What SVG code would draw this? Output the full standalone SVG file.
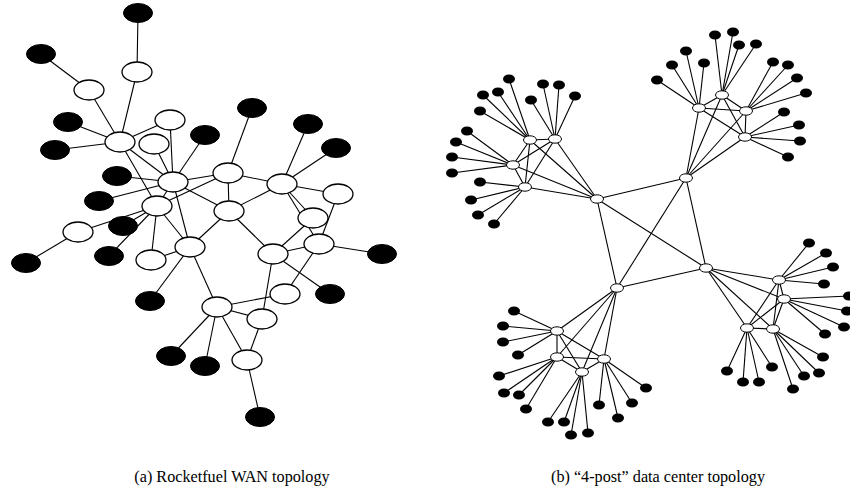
<svg xmlns="http://www.w3.org/2000/svg" width="850" height="488" viewBox="0 0 850 488">
<style>
.e line{stroke:#000;stroke-width:1.1;fill:none}
.lw{fill:#fff;stroke:#000;stroke-width:1.3;rx:15px;ry:10px}
.lb{fill:#000;stroke:#000;stroke-width:1;rx:14.5px;ry:9.5px}
.sw{fill:#fff;stroke:#000;stroke-width:1;rx:6.5px;ry:4.2px}
.sb{fill:#000;rx:6px;ry:4.5px}
.cap{font-family:"Liberation Serif","Times New Roman",serif;font-size:16.2px;fill:#000;text-anchor:middle}
</style>
<rect width="850" height="488" fill="#fff"/>
<g id="connectors" class="e">
<!-- left graph -->
<line x1="138" y1="13" x2="137" y2="72"/>
<line x1="137" y1="72" x2="120" y2="142"/>
<line x1="41" y1="54" x2="89" y2="90"/>
<line x1="89" y1="90" x2="120" y2="142"/>
<line x1="68" y1="122" x2="120" y2="142"/>
<line x1="55" y1="150" x2="120" y2="142"/>
<line x1="120" y1="142" x2="170" y2="120"/>
<line x1="120" y1="142" x2="173" y2="182"/>
<line x1="120" y1="142" x2="157" y2="206"/>
<line x1="170" y1="120" x2="173" y2="182"/>
<line x1="154" y1="144" x2="173" y2="182"/>
<line x1="205" y1="135" x2="173" y2="182"/>
<line x1="117" y1="176" x2="173" y2="182"/>
<line x1="99" y1="201" x2="173" y2="182"/>
<line x1="173" y1="182" x2="157" y2="206"/>
<line x1="173" y1="182" x2="190" y2="247"/>
<line x1="173" y1="182" x2="228" y2="173"/>
<line x1="173" y1="182" x2="229" y2="211"/>
<line x1="157" y1="206" x2="228" y2="173"/>
<line x1="157" y1="206" x2="78" y2="232"/>
<line x1="78" y1="232" x2="26" y2="263"/>
<line x1="123" y1="226" x2="157" y2="206"/>
<line x1="109" y1="256" x2="157" y2="206"/>
<line x1="157" y1="206" x2="151" y2="260"/>
<line x1="157" y1="206" x2="190" y2="247"/>
<line x1="151" y1="260" x2="190" y2="247"/>
<line x1="190" y1="247" x2="229" y2="211"/>
<line x1="190" y1="247" x2="150" y2="301"/>
<line x1="190" y1="247" x2="217" y2="307"/>
<line x1="252" y1="108" x2="228" y2="173"/>
<line x1="228" y1="173" x2="229" y2="211"/>
<line x1="228" y1="173" x2="282" y2="184"/>
<line x1="229" y1="211" x2="282" y2="184"/>
<line x1="229" y1="211" x2="273" y2="254"/>
<line x1="282" y1="184" x2="308" y2="124"/>
<line x1="282" y1="184" x2="336" y2="148"/>
<line x1="282" y1="184" x2="338" y2="194"/>
<line x1="282" y1="184" x2="313" y2="218"/>
<line x1="282" y1="184" x2="319" y2="244"/>
<line x1="338" y1="194" x2="319" y2="244"/>
<line x1="313" y1="218" x2="273" y2="254"/>
<line x1="319" y1="244" x2="273" y2="254"/>
<line x1="319" y1="244" x2="382" y2="254"/>
<line x1="319" y1="244" x2="285" y2="294"/>
<line x1="273" y1="254" x2="262" y2="319"/>
<line x1="273" y1="254" x2="330" y2="294"/>
<line x1="217" y1="307" x2="285" y2="294"/>
<line x1="217" y1="307" x2="262" y2="319"/>
<line x1="217" y1="307" x2="171" y2="356"/>
<line x1="217" y1="307" x2="205" y2="366"/>
<line x1="217" y1="307" x2="247" y2="360"/>
<line x1="262" y1="319" x2="247" y2="360"/>
<line x1="247" y1="360" x2="260" y2="417"/>
<!-- right graph: core -->
<line x1="597" y1="199" x2="686" y2="178"/>
<line x1="686" y1="178" x2="706" y2="268"/>
<line x1="706" y1="268" x2="617" y2="288"/>
<line x1="617" y1="288" x2="597" y2="199"/>
<line x1="597" y1="199" x2="706" y2="268"/>
<line x1="686" y1="178" x2="617" y2="288"/>
<!-- cluster A -->
<line x1="530" y1="140" x2="555" y2="139"/>
<line x1="530" y1="140" x2="513" y2="165"/>
<line x1="530" y1="140" x2="525" y2="187"/>
<line x1="555" y1="139" x2="513" y2="165"/>
<line x1="555" y1="139" x2="525" y2="187"/>
<line x1="513" y1="165" x2="525" y2="187"/>
<line x1="530" y1="140" x2="597" y2="199"/>
<line x1="555" y1="139" x2="597" y2="199"/>
<line x1="513" y1="165" x2="597" y2="199"/>
<line x1="525" y1="187" x2="597" y2="199"/>
<line x1="530" y1="140" x2="509" y2="79"/>
<line x1="530" y1="140" x2="498" y2="92"/>
<line x1="530" y1="140" x2="483" y2="95"/>
<line x1="530" y1="140" x2="480" y2="111"/>
<line x1="555" y1="139" x2="531" y2="100"/>
<line x1="555" y1="139" x2="543" y2="84"/>
<line x1="555" y1="139" x2="559" y2="85"/>
<line x1="555" y1="139" x2="575" y2="96"/>
<line x1="513" y1="165" x2="467" y2="131"/>
<line x1="513" y1="165" x2="456" y2="142"/>
<line x1="513" y1="165" x2="452" y2="157"/>
<line x1="513" y1="165" x2="452" y2="173"/>
<line x1="525" y1="187" x2="480" y2="182"/>
<line x1="525" y1="187" x2="471" y2="200"/>
<line x1="525" y1="187" x2="478" y2="215"/>
<line x1="525" y1="187" x2="494" y2="224"/>
<!-- cluster D -->
<line x1="699" y1="108" x2="722" y2="95"/>
<line x1="699" y1="108" x2="746" y2="111"/>
<line x1="699" y1="108" x2="745" y2="137"/>
<line x1="722" y1="95" x2="746" y2="111"/>
<line x1="722" y1="95" x2="745" y2="137"/>
<line x1="746" y1="111" x2="745" y2="137"/>
<line x1="699" y1="108" x2="686" y2="178"/>
<line x1="722" y1="95" x2="686" y2="178"/>
<line x1="746" y1="111" x2="686" y2="178"/>
<line x1="745" y1="137" x2="686" y2="178"/>
<line x1="699" y1="108" x2="657" y2="80"/>
<line x1="699" y1="108" x2="672" y2="65"/>
<line x1="699" y1="108" x2="686" y2="51"/>
<line x1="699" y1="108" x2="704" y2="63"/>
<line x1="722" y1="95" x2="715" y2="35"/>
<line x1="722" y1="95" x2="733" y2="32"/>
<line x1="722" y1="95" x2="739" y2="45"/>
<line x1="722" y1="95" x2="756" y2="44"/>
<line x1="746" y1="111" x2="773" y2="62"/>
<line x1="746" y1="111" x2="788" y2="65"/>
<line x1="746" y1="111" x2="797" y2="78"/>
<line x1="746" y1="111" x2="806" y2="93"/>
<line x1="745" y1="137" x2="784" y2="112"/>
<line x1="745" y1="137" x2="799" y2="125"/>
<line x1="745" y1="137" x2="800" y2="141"/>
<line x1="745" y1="137" x2="788" y2="157"/>
<!-- cluster E -->
<line x1="779" y1="280" x2="784" y2="299"/>
<line x1="779" y1="280" x2="747" y2="328"/>
<line x1="779" y1="280" x2="773" y2="329"/>
<line x1="784" y1="299" x2="747" y2="328"/>
<line x1="784" y1="299" x2="773" y2="329"/>
<line x1="747" y1="328" x2="773" y2="329"/>
<line x1="779" y1="280" x2="706" y2="268"/>
<line x1="784" y1="299" x2="706" y2="268"/>
<line x1="747" y1="328" x2="706" y2="268"/>
<line x1="773" y1="329" x2="706" y2="268"/>
<line x1="779" y1="280" x2="809" y2="243"/>
<line x1="779" y1="280" x2="826" y2="253"/>
<line x1="779" y1="280" x2="833" y2="267"/>
<line x1="779" y1="280" x2="824" y2="284"/>
<line x1="784" y1="299" x2="849" y2="296"/>
<line x1="784" y1="299" x2="847" y2="311"/>
<line x1="784" y1="299" x2="844" y2="327"/>
<line x1="784" y1="299" x2="825" y2="334"/>
<line x1="747" y1="328" x2="727" y2="371"/>
<line x1="747" y1="328" x2="743" y2="382"/>
<line x1="747" y1="328" x2="759" y2="382"/>
<line x1="747" y1="328" x2="772" y2="367"/>
<line x1="773" y1="329" x2="823" y2="357"/>
<line x1="773" y1="329" x2="819" y2="373"/>
<line x1="773" y1="329" x2="804" y2="376"/>
<line x1="773" y1="329" x2="793" y2="389"/>
<!-- cluster F -->
<line x1="557" y1="331" x2="557" y2="357"/>
<line x1="557" y1="331" x2="582" y2="372"/>
<line x1="557" y1="331" x2="604" y2="359"/>
<line x1="557" y1="357" x2="582" y2="372"/>
<line x1="557" y1="357" x2="604" y2="359"/>
<line x1="582" y1="372" x2="604" y2="359"/>
<line x1="557" y1="331" x2="617" y2="288"/>
<line x1="557" y1="357" x2="617" y2="288"/>
<line x1="582" y1="372" x2="617" y2="288"/>
<line x1="604" y1="359" x2="617" y2="288"/>
<line x1="557" y1="331" x2="514" y2="311"/>
<line x1="557" y1="331" x2="503" y2="326"/>
<line x1="557" y1="331" x2="503" y2="342"/>
<line x1="557" y1="331" x2="518" y2="355"/>
<line x1="557" y1="357" x2="499" y2="376"/>
<line x1="557" y1="357" x2="504" y2="393"/>
<line x1="557" y1="357" x2="519" y2="395"/>
<line x1="557" y1="357" x2="526" y2="409"/>
<line x1="582" y1="372" x2="548" y2="422"/>
<line x1="582" y1="372" x2="564" y2="422"/>
<line x1="582" y1="372" x2="571" y2="435"/>
<line x1="582" y1="372" x2="588" y2="433"/>
<line x1="604" y1="359" x2="599" y2="405"/>
<line x1="604" y1="359" x2="618" y2="418"/>
<line x1="604" y1="359" x2="632" y2="403"/>
<line x1="604" y1="359" x2="646" y2="388"/>
</g>
<g id="wan-nodes">
<g id="a-b1"><ellipse class="lb" cx="138" cy="13"/></g>
<g id="a-w1"><ellipse class="lw" cx="137" cy="72"/></g>
<g id="a-b2"><ellipse class="lb" cx="41" cy="54"/></g>
<g id="a-w2"><ellipse class="lw" cx="89" cy="90"/></g>
<g id="a-b3"><ellipse class="lb" cx="68" cy="122"/></g>
<g id="a-b4"><ellipse class="lb" cx="55" cy="150"/></g>
<g id="a-w3"><ellipse class="lw" cx="120" cy="142"/></g>
<g id="a-w4"><ellipse class="lw" cx="170" cy="120"/></g>
<g id="a-w5"><ellipse class="lw" cx="154" cy="144"/></g>
<g id="a-b5"><ellipse class="lb" cx="205" cy="135"/></g>
<g id="a-b6"><ellipse class="lb" cx="117" cy="176"/></g>
<g id="a-b7"><ellipse class="lb" cx="99" cy="201"/></g>
<g id="a-w6"><ellipse class="lw" cx="173" cy="182"/></g>
<g id="a-b8"><ellipse class="lb" cx="123" cy="226"/></g>
<g id="a-w7"><ellipse class="lw" cx="157" cy="206"/></g>
<g id="a-w8"><ellipse class="lw" cx="78" cy="232"/></g>
<g id="a-b9"><ellipse class="lb" cx="26" cy="263"/></g>
<g id="a-b10"><ellipse class="lb" cx="109" cy="256"/></g>
<g id="a-w9"><ellipse class="lw" cx="151" cy="260"/></g>
<g id="a-w10"><ellipse class="lw" cx="190" cy="247"/></g>
<g id="a-b11"><ellipse class="lb" cx="150" cy="301"/></g>
<g id="a-b14"><ellipse class="lb" cx="252" cy="108"/></g>
<g id="a-w11"><ellipse class="lw" cx="228" cy="173"/></g>
<g id="a-w12"><ellipse class="lw" cx="229" cy="211"/></g>
<g id="a-w13"><ellipse class="lw" cx="282" cy="184"/></g>
<g id="a-b15"><ellipse class="lb" cx="308" cy="124"/></g>
<g id="a-b16"><ellipse class="lb" cx="336" cy="148"/></g>
<g id="a-w14"><ellipse class="lw" cx="338" cy="194"/></g>
<g id="a-w15"><ellipse class="lw" cx="313" cy="218"/></g>
<g id="a-w16"><ellipse class="lw" cx="319" cy="244"/></g>
<g id="a-b17"><ellipse class="lb" cx="382" cy="254"/></g>
<g id="a-w17"><ellipse class="lw" cx="273" cy="254"/></g>
<g id="a-w18"><ellipse class="lw" cx="285" cy="294"/></g>
<g id="a-b18"><ellipse class="lb" cx="330" cy="294"/></g>
<g id="a-w19"><ellipse class="lw" cx="217" cy="307"/></g>
<g id="a-w20"><ellipse class="lw" cx="262" cy="319"/></g>
<g id="a-w21"><ellipse class="lw" cx="247" cy="360"/></g>
<g id="a-b12"><ellipse class="lb" cx="171" cy="356"/></g>
<g id="a-b13"><ellipse class="lb" cx="205" cy="366"/></g>
<g id="a-b19"><ellipse class="lb" cx="260" cy="417"/></g>
</g>
<g id="dc-nodes">
<g id="c1"><ellipse class="sw" cx="597" cy="199"/></g>
<g id="c2"><ellipse class="sw" cx="686" cy="178"/></g>
<g id="c3"><ellipse class="sw" cx="706" cy="268"/></g>
<g id="c4"><ellipse class="sw" cx="617" cy="288"/></g>
<g id="a1"><ellipse class="sw" cx="530" cy="140"/></g>
<g id="a2"><ellipse class="sw" cx="555" cy="139"/></g>
<g id="a3"><ellipse class="sw" cx="513" cy="165"/></g>
<g id="a4"><ellipse class="sw" cx="525" cy="187"/></g>
<g id="d1"><ellipse class="sw" cx="699" cy="108"/></g>
<g id="d2"><ellipse class="sw" cx="722" cy="95"/></g>
<g id="d3"><ellipse class="sw" cx="746" cy="111"/></g>
<g id="d4"><ellipse class="sw" cx="745" cy="137"/></g>
<g id="e1"><ellipse class="sw" cx="779" cy="280"/></g>
<g id="e2"><ellipse class="sw" cx="784" cy="299"/></g>
<g id="e3"><ellipse class="sw" cx="747" cy="328"/></g>
<g id="e4"><ellipse class="sw" cx="773" cy="329"/></g>
<g id="f1"><ellipse class="sw" cx="557" cy="331"/></g>
<g id="f2"><ellipse class="sw" cx="557" cy="357"/></g>
<g id="f3"><ellipse class="sw" cx="582" cy="372"/></g>
<g id="f4"><ellipse class="sw" cx="604" cy="359"/></g>
<g id="a1-l1"><ellipse class="sb" cx="509" cy="79"/></g>
<g id="a1-l2"><ellipse class="sb" cx="498" cy="92"/></g>
<g id="a1-l3"><ellipse class="sb" cx="483" cy="95"/></g>
<g id="a1-l4"><ellipse class="sb" cx="480" cy="111"/></g>
<g id="a2-l1"><ellipse class="sb" cx="531" cy="100"/></g>
<g id="a2-l2"><ellipse class="sb" cx="543" cy="84"/></g>
<g id="a2-l3"><ellipse class="sb" cx="559" cy="85"/></g>
<g id="a2-l4"><ellipse class="sb" cx="575" cy="96"/></g>
<g id="a3-l1"><ellipse class="sb" cx="467" cy="131"/></g>
<g id="a3-l2"><ellipse class="sb" cx="456" cy="142"/></g>
<g id="a3-l3"><ellipse class="sb" cx="452" cy="157"/></g>
<g id="a3-l4"><ellipse class="sb" cx="452" cy="173"/></g>
<g id="a4-l1"><ellipse class="sb" cx="480" cy="182"/></g>
<g id="a4-l2"><ellipse class="sb" cx="471" cy="200"/></g>
<g id="a4-l3"><ellipse class="sb" cx="478" cy="215"/></g>
<g id="a4-l4"><ellipse class="sb" cx="494" cy="224"/></g>
<g id="d1-l1"><ellipse class="sb" cx="657" cy="80"/></g>
<g id="d1-l2"><ellipse class="sb" cx="672" cy="65"/></g>
<g id="d1-l3"><ellipse class="sb" cx="686" cy="51"/></g>
<g id="d1-l4"><ellipse class="sb" cx="704" cy="63"/></g>
<g id="d2-l1"><ellipse class="sb" cx="715" cy="35"/></g>
<g id="d2-l2"><ellipse class="sb" cx="733" cy="32"/></g>
<g id="d2-l3"><ellipse class="sb" cx="739" cy="45"/></g>
<g id="d2-l4"><ellipse class="sb" cx="756" cy="44"/></g>
<g id="d3-l1"><ellipse class="sb" cx="773" cy="62"/></g>
<g id="d3-l2"><ellipse class="sb" cx="788" cy="65"/></g>
<g id="d3-l3"><ellipse class="sb" cx="797" cy="78"/></g>
<g id="d3-l4"><ellipse class="sb" cx="806" cy="93"/></g>
<g id="d4-l1"><ellipse class="sb" cx="784" cy="112"/></g>
<g id="d4-l2"><ellipse class="sb" cx="799" cy="125"/></g>
<g id="d4-l3"><ellipse class="sb" cx="800" cy="141"/></g>
<g id="d4-l4"><ellipse class="sb" cx="788" cy="157"/></g>
<g id="e1-l1"><ellipse class="sb" cx="809" cy="243"/></g>
<g id="e1-l2"><ellipse class="sb" cx="826" cy="253"/></g>
<g id="e1-l3"><ellipse class="sb" cx="833" cy="267"/></g>
<g id="e1-l4"><ellipse class="sb" cx="824" cy="284"/></g>
<g id="e2-l1"><ellipse class="sb" cx="849" cy="296"/></g>
<g id="e2-l2"><ellipse class="sb" cx="847" cy="311"/></g>
<g id="e2-l3"><ellipse class="sb" cx="844" cy="327"/></g>
<g id="e2-l4"><ellipse class="sb" cx="825" cy="334"/></g>
<g id="e3-l1"><ellipse class="sb" cx="727" cy="371"/></g>
<g id="e3-l2"><ellipse class="sb" cx="743" cy="382"/></g>
<g id="e3-l3"><ellipse class="sb" cx="759" cy="382"/></g>
<g id="e3-l4"><ellipse class="sb" cx="772" cy="367"/></g>
<g id="e4-l1"><ellipse class="sb" cx="823" cy="357"/></g>
<g id="e4-l2"><ellipse class="sb" cx="819" cy="373"/></g>
<g id="e4-l3"><ellipse class="sb" cx="804" cy="376"/></g>
<g id="e4-l4"><ellipse class="sb" cx="793" cy="389"/></g>
<g id="f1-l1"><ellipse class="sb" cx="514" cy="311"/></g>
<g id="f1-l2"><ellipse class="sb" cx="503" cy="326"/></g>
<g id="f1-l3"><ellipse class="sb" cx="503" cy="342"/></g>
<g id="f1-l4"><ellipse class="sb" cx="518" cy="355"/></g>
<g id="f2-l1"><ellipse class="sb" cx="499" cy="376"/></g>
<g id="f2-l2"><ellipse class="sb" cx="504" cy="393"/></g>
<g id="f2-l3"><ellipse class="sb" cx="519" cy="395"/></g>
<g id="f2-l4"><ellipse class="sb" cx="526" cy="409"/></g>
<g id="f3-l1"><ellipse class="sb" cx="548" cy="422"/></g>
<g id="f3-l2"><ellipse class="sb" cx="564" cy="422"/></g>
<g id="f3-l3"><ellipse class="sb" cx="571" cy="435"/></g>
<g id="f3-l4"><ellipse class="sb" cx="588" cy="433"/></g>
<g id="f4-l1"><ellipse class="sb" cx="599" cy="405"/></g>
<g id="f4-l2"><ellipse class="sb" cx="618" cy="418"/></g>
<g id="f4-l3"><ellipse class="sb" cx="632" cy="403"/></g>
<g id="f4-l4"><ellipse class="sb" cx="646" cy="388"/></g>
</g>
<text class="cap" x="232" y="482">(a) Rocketfuel WAN topology</text>
<text class="cap" x="658" y="482">(b) “4-post” data center topology</text>
</svg>
